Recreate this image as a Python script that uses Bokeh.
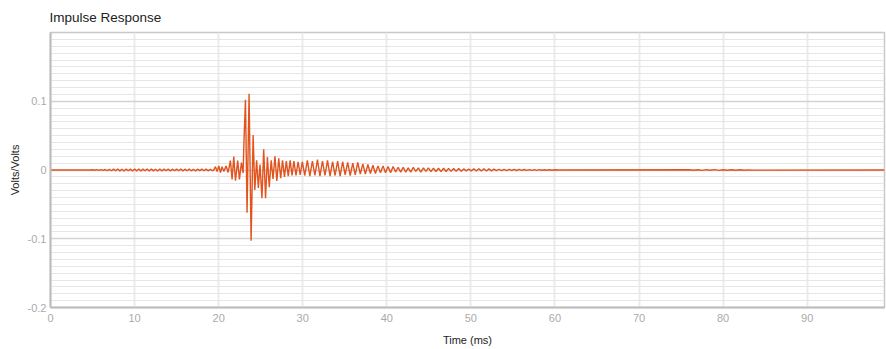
from bokeh.plotting import figure
from bokeh.models import Range1d, FixedTicker
from bokeh.embed import file_html
from bokeh.resources import INLINE

# ---------------- data ----------------
# leading silence
lead_t = [0.0, 4.8]
lead_v = [0.0, 0.0]

# low pre-ripple, sampled every 0.25 ms from 5.0 ms
pre_start = 5.0
pre_step = 0.25
pre_v = [0.0003, -0.0004, 0.0005, -0.0005, 0.0006, -0.0006, 0.0007, -0.0008, 0.0009,
         -0.0011, 0.0013, -0.0012, 0.0014, -0.0013, 0.0012, -0.0014, 0.0015, -0.0012, 0.0013,
         -0.0015, 0.0014, -0.0013, 0.0016, -0.0014, 0.0013, -0.0012, 0.0015, -0.0016, 0.0014,
         -0.0013, 0.0012, -0.0015, 0.0016, -0.0014, 0.0013, -0.0012, 0.0014, -0.0013, 0.0012,
         -0.0011, 0.0013, -0.0012, 0.0014, -0.0013, 0.0012, -0.0011, 0.0013, -0.0012, 0.0011,
         -0.0013, 0.0012, -0.0010, 0.0012, -0.0011, 0.0013, -0.0012, 0.0011, -0.0010]

# main burst (irregular extrema)
burst_t = [19.42, 19.62, 19.82, 20.02, 20.22, 20.41, 20.61, 20.89, 21.13, 21.40,
           21.60, 21.80, 22.00, 22.27, 22.47, 22.71, 22.91, 23.02, 23.19, 23.38,
           23.62, 23.86, 24.10, 24.30, 24.52, 24.72, 24.92, 25.15, 25.36, 25.58,
           25.80, 26.02, 26.25, 26.47, 26.70, 26.92, 27.15, 27.38, 27.60, 27.83,
           28.05, 28.28, 28.50, 28.73, 28.95, 29.20, 29.45, 29.70, 29.95]
burst_v = [0.0, 0.0049, -0.0024, 0.0058, -0.0036, 0.0049, -0.0020, 0.0058, -0.0036, 0.0136,
           -0.0136, 0.0195, -0.0156, 0.0136, -0.0136, 0.0107, -0.0044, 0.045, 0.102, -0.062,
           0.111, -0.103, 0.051, -0.029, 0.014, -0.026, 0.008, -0.041, 0.030, -0.041,
           0.019, -0.025, 0.014, -0.013, 0.020, -0.016, 0.017, -0.012, 0.014, -0.010,
           0.013, -0.009, 0.014, -0.008, 0.013, -0.008, 0.012, -0.007, 0.012]

# decaying regular tail, sampled every 0.3 ms from 30.25 ms
tail_start = 30.25
tail_step = 0.3
tail_v = [-0.008, 0.014, -0.009, 0.013, -0.008, 0.015, -0.009, 0.013, -0.008, 0.014,
          -0.009, 0.012, -0.008, 0.013, -0.009, 0.012,
          -0.007, 0.011, -0.008, 0.010, -0.007, 0.011, -0.006, 0.009, -0.006, 0.008,
          -0.005, 0.007, -0.005, 0.006, -0.004, 0.006, -0.004, 0.005, -0.004, 0.005,
          -0.003, 0.004, -0.003, 0.004, -0.003, 0.003, -0.003, 0.004, -0.002, 0.003,
          -0.003, 0.003, -0.002, 0.003,
          -0.0025, 0.0028, -0.0022, 0.0026, -0.0024, 0.0025, -0.0021, 0.0024, -0.0020, 0.0022,
          -0.0019, 0.0021, -0.0018,
          0.0016, -0.0012, 0.0014, -0.0013, 0.0017, -0.0015, 0.0019, -0.0016, 0.0018, -0.0014,
          0.0016, -0.0012, 0.0013, -0.0010, 0.0011, -0.0009, 0.0010,
          -0.0008, 0.0009, -0.0007, 0.0008, -0.0007, 0.0008, -0.0006, 0.0007, -0.0006, 0.0006,
          -0.0005, 0.0006, -0.0005, 0.0005, -0.0004, 0.0004, -0.0003, 0.0004, -0.0003, 0.0003]

# faint late ripple, sampled every 0.5 ms from 76.0 ms
late_start = 76.0
late_step = 0.5
late_v = [0.0003, -0.0004, 0.0004, -0.0005, 0.0005, -0.0004, 0.0005, -0.0005,
          0.0004, -0.0004, 0.0004, -0.0003, 0.0003, -0.0003, 0.0002, -0.0002]

end_t = [99.2]
end_v = [0.0]

t = (lead_t
     + [pre_start + pre_step * i for i in range(len(pre_v))]
     + burst_t
     + [tail_start + tail_step * i for i in range(len(tail_v))]
     + [60.5]
     + [late_start + late_step * i for i in range(len(late_v))]
     + end_t)
v = (lead_v + pre_v + burst_v + tail_v + [0.0] + late_v + end_v)

x_ticks = [0, 10, 20, 30, 40, 50, 60, 70, 80, 90]
y_ticks = [-0.2, -0.1, 0.0, 0.1]

# ---------------- figure ----------------
FONT = "Liberation Sans"
p = figure(width=886, height=349, output_backend="svg", toolbar_location=None,
           x_range=Range1d(0, 99.2), y_range=Range1d(-0.2, 0.2),
           min_border_left=50, min_border_right=2, min_border_top=32, min_border_bottom=42)

p.title.text = "Impulse Response"
p.title.text_font = FONT
p.title.text_font_size = "13.5px"
p.title.text_font_style = "normal"
p.title.text_color = "#222222"
p.title.standoff = 15
p.title.offset = -1

p.background_fill_color = "white"
p.border_fill_color = "white"
p.outline_line_color = "#c8c8c8"
p.outline_line_width = 1.5

p.line(t, v, line_color="#e2531e", line_width=1.4)

minor_y = [round(-0.2 + 0.01 * i, 3) for i in range(41)]
p.yaxis.ticker = FixedTicker(ticks=y_ticks, minor_ticks=minor_y)
p.xaxis.ticker = FixedTicker(ticks=x_ticks)
p.yaxis.major_label_overrides = {-0.2: "-0.2", -0.1: "-0.1", 0.0: "0", 0.1: "0.1"}

for ax in (p.xaxis[0], p.yaxis[0]):
    ax.axis_line_color = "#bdbdbd"
    ax.axis_line_width = 2
    ax.major_tick_line_color = None
    ax.minor_tick_line_color = None
    ax.major_tick_out = 0
    ax.major_tick_in = 0
    ax.minor_tick_out = 0
    ax.minor_tick_in = 0
    ax.major_label_text_color = "#aaaaaa"
    ax.major_label_text_font = FONT
    ax.major_label_text_font_size = "11px"
    ax.axis_label_text_font = FONT
    ax.axis_label_text_font_size = "11px"
    ax.axis_label_text_font_style = "normal"
    ax.axis_label_text_color = "#222222"

p.yaxis.axis_label = "Volts/Volts"
p.yaxis.major_label_standoff = 4
p.yaxis.axis_label_standoff = 4
p.xaxis.axis_label = "Time (ms)"
p.xaxis.major_label_standoff = 6
p.xaxis.axis_label_standoff = 9

p.xgrid.grid_line_color = "#ebebeb"
p.xgrid.grid_line_width = 2
p.ygrid.grid_line_color = "#d3d3d3"
p.ygrid.grid_line_width = 1.5
p.ygrid.minor_grid_line_color = "#e6e6e6"
p.ygrid.minor_grid_line_width = 1.2

open("out.html", "w").write(file_html(p, INLINE))
